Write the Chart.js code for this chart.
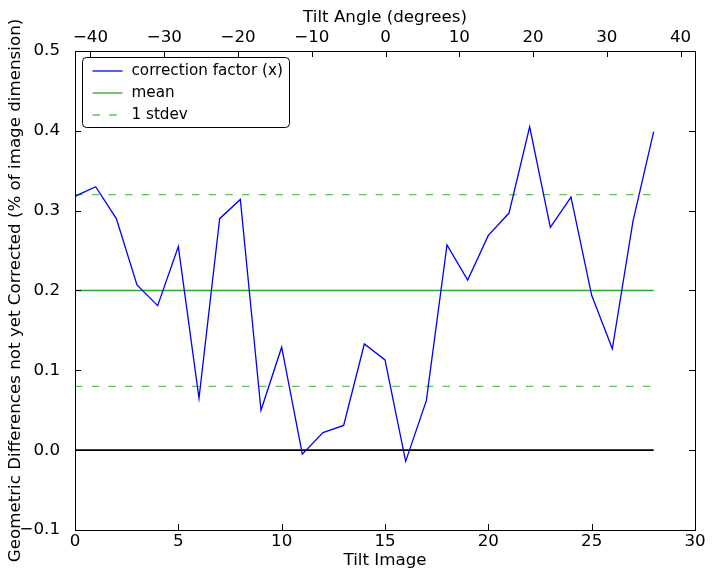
<!DOCTYPE html>
<html>
<head>
<meta charset="utf-8">
<script src="https://cdn.jsdelivr.net/npm/chart.js@4.4.1/dist/chart.umd.min.js"></script>
<style>
  html, body { margin: 0; padding: 0; background: #fff; }
  #wrap { width: 714px; height: 579px; }
</style>
</head>
<body>
<div id="wrap"><canvas id="tiltChart" width="714" height="579"></canvas></div>
<script>
// Data
const tiltImages = [0, 1, 2, 3, 4, 5, 6, 7, 8, 9, 10, 11, 12, 13, 14, 15, 16, 17, 18, 19, 20, 21, 22, 23, 24, 25, 26, 27, 28];
const correction = [0.318, 0.330, 0.290, 0.207, 0.181, 0.255, 0.065, 0.290, 0.314, 0.050, 0.129, -0.005, 0.022, 0.031, 0.133, 0.113, -0.014, 0.062, 0.257, 0.213, 0.269, 0.297, 0.405, 0.279, 0.317, 0.194, 0.127, 0.287, 0.399];
const meanValue = 0.2;
const stdevLow = 0.08;
const stdevHigh = 0.32;
const yTicks = [-0.1, 0.0, 0.1, 0.2, 0.3, 0.4, 0.5];
const imageTicks = [0, 5, 10, 15, 20, 25, 30];
const angleTicks = [-40, -30, -20, -10, 0, 10, 20, 30, 40];

const FONT = 'DejaVu Sans';
const SIZE = 16.7;
const minus = s => String(s).replace('-', '\u2212');
const first = tiltImages[0], last = tiltImages[tiltImages.length - 1];
const flat = v => [{x: first, y: v}, {x: last, y: v}];

// inward ticks, frame and the boxed legend, like the original
const frameTicks = {
    id: 'frameTicks',
    afterDatasetsDraw(chart) {
        const {ctx, chartArea: a, scales} = chart;
        const len = 6;
        ctx.save();
        ctx.strokeStyle = '#000';
        ctx.lineWidth = 1;
        ctx.beginPath();
        imageTicks.forEach(v => {
            const px = Math.round(scales.x.getPixelForValue(v)) + 0.5;
            ctx.moveTo(px, a.bottom); ctx.lineTo(px, a.bottom - len);
        });
        angleTicks.forEach(v => {
            const px = Math.round(scales.x2.getPixelForValue(v)) + 0.5;
            ctx.moveTo(px, a.top); ctx.lineTo(px, a.top + len);
        });
        yTicks.forEach(v => {
            const py = Math.round(scales.y.getPixelForValue(v)) + 0.5;
            ctx.moveTo(a.left, py); ctx.lineTo(a.left + len, py);
            ctx.moveTo(a.right, py); ctx.lineTo(a.right - len, py);
        });
        ctx.stroke();
        ctx.strokeRect(Math.round(a.left) + 0.5, Math.round(a.top) + 0.5,
            Math.round(a.right - a.left), Math.round(a.bottom - a.top));

        // legend
        const items = chart.data.datasets.filter(d => d.inLegend);
        const bx = a.left + 7.5, by = a.top + 6.5, bw = 207, bh = 70;
        ctx.beginPath();
        ctx.roundRect(bx, by, bw, bh, 4);
        ctx.fillStyle = '#fff';
        ctx.fill();
        ctx.lineWidth = 1;
        ctx.strokeStyle = '#000';
        ctx.stroke();
        ctx.font = '15.2px ' + FONT;
        ctx.textBaseline = 'middle';
        items.forEach((d, i) => {
            const ly = by + 13.5 + i * 22;
            ctx.beginPath();
            ctx.setLineDash(d.borderDash || []);
            ctx.strokeStyle = d.borderColor;
            ctx.lineWidth = d.borderWidth;
            ctx.moveTo(bx + 10, ly); ctx.lineTo(bx + 40, ly);
            ctx.stroke();
            ctx.setLineDash([]);
            ctx.fillStyle = '#000';
            ctx.fillText(d.label, bx + 49, ly);
        });
        ctx.restore();
    }
};

const ctx = document.getElementById('tiltChart').getContext('2d');
const tiltChart = new Chart(ctx, {
    type: 'line',
    data: {
        datasets: [
            {
                label: 'correction factor (x)',
                data: tiltImages.map((t, i) => ({x: t, y: correction[i]})),
                borderColor: '#0000ff',
                borderWidth: 1.3,
                inLegend: true,
                order: 1
            },
            {
                label: 'mean',
                data: flat(meanValue),
                borderColor: '#2ca52c',
                borderWidth: 1.3,
                inLegend: true,
                order: 2
            },
            {
                label: '1 stdev',
                data: flat(stdevHigh),
                borderColor: '#62bf62',
                borderWidth: 1.3,
                borderDash: [7.5, 9.2],
                inLegend: true,
                order: 3
            },
            {
                label: '1 stdev low',
                data: flat(stdevLow),
                borderColor: '#62bf62',
                borderWidth: 1.3,
                borderDash: [7.5, 9.2],
                order: 3
            },
            {
                label: 'zero',
                data: flat(0),
                borderColor: '#000',
                borderWidth: 1.6,
                order: 4
            }
        ]
    },
    options: {
        responsive: false,
        animation: false,
        layout: { padding: { right: 19, left: 0, top: 0, bottom: 0 } },
        elements: {
            point: { radius: 0 },
            line: { tension: 0, fill: false }
        },
        plugins: {
            legend: { display: false },
            tooltip: { enabled: false }
        },
        scales: {
            x: {
                type: 'linear',
                position: 'bottom',
                min: 0,
                max: 30,
                afterBuildTicks: s => { s.ticks = imageTicks.map(v => ({value: v})); },
                afterFit: s => { s.height = 49; },
                grid: { display: false },
                border: { display: false },
                ticks: { color: '#000', font: { family: FONT, size: SIZE }, padding: -6, maxRotation: 0 },
                title: { display: true, text: 'Tilt Image', color: '#000', font: { family: FONT, size: SIZE }, padding: { top: 0, bottom: 8 } }
            },
            x2: {
                type: 'linear',
                position: 'top',
                min: -42.1,
                max: 41.95,
                afterBuildTicks: s => { s.ticks = angleTicks.map(v => ({value: v})); },
                afterFit: s => { s.height = 51; },
                grid: { display: false },
                border: { display: false },
                ticks: { color: '#000', font: { family: FONT, size: SIZE }, padding: -5, maxRotation: 0, callback: v => minus(v) },
                title: { display: true, text: 'Tilt Angle (degrees)', color: '#000', font: { family: FONT, size: SIZE }, padding: { top: 8, bottom: 0 } }
            },
            y: {
                type: 'linear',
                min: -0.1,
                max: 0.5,
                afterBuildTicks: s => { s.ticks = yTicks.map(v => ({value: v})); },
                afterFit: s => { s.width = 75; },
                grid: { display: false },
                border: { display: false },
                ticks: { color: '#000', font: { family: FONT, size: SIZE }, padding: 7, callback: v => minus(v.toFixed(1)) },
                title: { display: true, text: 'Geometric Differences not yet Corrected (% of image dimension)', color: '#000', font: { family: FONT, size: SIZE }, padding: { top: 6, bottom: 0 } }
            }
        }
    },
    plugins: [frameTicks]
});
</script>
</body>
</html>
